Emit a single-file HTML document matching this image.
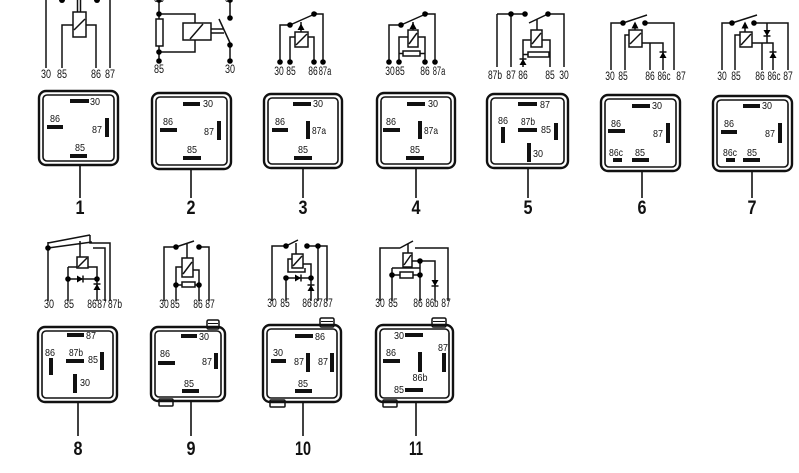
<!DOCTYPE html>
<html><head><meta charset="utf-8"><style>
html,body{margin:0;padding:0;background:#fff;}
svg{display:block;}
text{font-family:"Liberation Sans",sans-serif;fill:#111;}
.l{font-size:10.5px;}
.sl{font-size:11.5px;}
.n{font-size:19px;font-weight:bold;}
.s{fill:none;stroke:#111;stroke-width:1.5;}
.w{fill:#fff;stroke:#111;stroke-width:1.5;}
.o{fill:none;stroke:#111;stroke-width:2.4;}
.i{fill:none;stroke:#111;stroke-width:1.6;}
.st{stroke:#111;stroke-width:1.6;}
</style></head><body>
<svg width="799" height="473" viewBox="0 0 799 473" xmlns="http://www.w3.org/2000/svg">
<rect width="799" height="473" fill="#fff"/>

<!-- ===== Schematic 1 ===== -->
<path class="s" d="M46 0V68 M110 0V68 M62 68V25H73 M96 68V25H86 M77.5 0V12 M80.5 0V12"/>
<rect class="w" x="73" y="12" width="13" height="25"/><line class="s" x1="74" y1="30" x2="85" y2="19"/>
<circle cx="62" cy="0" r="3"/><circle cx="97" cy="0" r="3"/>
<g class="sl" text-anchor="middle"><text x="46" y="78" textLength="10" lengthAdjust="spacingAndGlyphs">30</text><text x="62" y="78" textLength="10" lengthAdjust="spacingAndGlyphs">85</text><text x="96" y="78" textLength="10" lengthAdjust="spacingAndGlyphs">86</text><text x="110" y="78" textLength="10" lengthAdjust="spacingAndGlyphs">87</text></g>

<!-- ===== Schematic 2 ===== -->
<path class="s" d="M159 0V62 M159 14H195V23 M159 52H195V40 M211 29H224 M211 33H224 M230 0V18 M230 45V62 M219 19L231 45"/>
<rect class="w" x="156" y="19" width="7" height="27"/>
<rect class="w" x="183" y="23" width="28" height="17"/><line class="s" x1="190" y1="39" x2="203" y2="24"/>
<circle cx="159" cy="0" r="2.8"/><circle cx="159" cy="14" r="2.8"/><circle cx="159" cy="52" r="2.8"/><circle cx="159" cy="61" r="2.8"/>
<circle cx="230" cy="0" r="2.8"/><circle cx="230" cy="18" r="2.8"/><circle cx="230" cy="45" r="2.8"/><circle cx="230" cy="61" r="2.8"/>
<g class="sl" text-anchor="middle"><text x="159" y="73" textLength="10" lengthAdjust="spacingAndGlyphs">85</text><text x="230" y="73" textLength="10" lengthAdjust="spacingAndGlyphs">30</text><text x="159" y="2" textLength="10" lengthAdjust="spacingAndGlyphs">86</text><text x="230" y="2" textLength="10" lengthAdjust="spacingAndGlyphs">87</text></g>

<!-- ===== Schematic 3 ===== -->
<path class="s" d="M280 62V25H290 M290 25L317 13 M314 14H323V62 M290 62V37H295 M314 62V37H308 M301 22V32"/>
<rect class="w" x="295" y="32" width="13" height="15"/><line class="s" x1="296" y1="45" x2="307" y2="34"/>
<polygon points="297.5,30 304.5,30 301,23.5"/>
<circle cx="290" cy="25" r="2.8"/><circle cx="314" cy="14" r="2.8"/>
<circle cx="280" cy="62" r="2.8"/><circle cx="290" cy="62" r="2.8"/><circle cx="314" cy="62" r="2.8"/><circle cx="323" cy="62" r="2.8"/>
<g class="sl" text-anchor="middle"><text x="279" y="75" textLength="9.5" lengthAdjust="spacingAndGlyphs">30</text><text x="291" y="75" textLength="9.5" lengthAdjust="spacingAndGlyphs">85</text><text x="313" y="75" textLength="9.5" lengthAdjust="spacingAndGlyphs">86</text><text x="325" y="75" textLength="12.5" lengthAdjust="spacingAndGlyphs">87a</text></g>

<!-- ===== Schematic 4 ===== -->
<path class="s" d="M389 62V25H401 M401 25L428 13 M425 14H435V62 M399 62V37H408 M425 62V37H418 M399 53.5H403 M420 53.5H425 M413 22V30"/>
<rect class="w" x="408" y="30" width="10" height="17"/><line class="s" x1="409" y1="44" x2="417" y2="33"/>
<rect class="w" x="403" y="51" width="17" height="5"/>
<polygon points="409.5,29 416.5,29 413,22.5"/>
<circle cx="401" cy="25" r="2.8"/><circle cx="425" cy="14" r="2.8"/>
<circle cx="389" cy="62" r="2.8"/><circle cx="399" cy="62" r="2.8"/><circle cx="425" cy="62" r="2.8"/><circle cx="435" cy="62" r="2.8"/>
<g class="sl" text-anchor="middle"><text x="390" y="75" textLength="9.5" lengthAdjust="spacingAndGlyphs">30</text><text x="400" y="75" textLength="9.5" lengthAdjust="spacingAndGlyphs">85</text><text x="425" y="75" textLength="9.5" lengthAdjust="spacingAndGlyphs">86</text><text x="439" y="75" textLength="12.5" lengthAdjust="spacingAndGlyphs">87a</text></g>

<!-- ===== Schematic 5 ===== -->
<path class="s" d="M497 14V67 M497 14H525 M511 14V67 M529 23L550 13 M548 14H564V67 M537 19V30 M523 67V40H550V67 M523 54.5H528 M549 54.5H550"/>
<rect class="w" x="531" y="30" width="11" height="17"/><line class="s" x1="532" y1="44" x2="541" y2="33"/>
<rect class="w" x="528" y="52" width="21" height="5"/>
<polygon points="519.5,65 526.5,65 523,59"/><line class="s" x1="519.5" y1="59" x2="526.5" y2="59"/>
<circle cx="511" cy="14" r="2.8"/><circle cx="525" cy="14" r="2.8"/><circle cx="548" cy="14" r="2.8"/>
<g class="sl" text-anchor="middle"><text x="495" y="79" textLength="14" lengthAdjust="spacingAndGlyphs">87b</text><text x="511" y="79" textLength="9.5" lengthAdjust="spacingAndGlyphs">87</text><text x="523" y="79" textLength="9.5" lengthAdjust="spacingAndGlyphs">86</text><text x="550" y="79" textLength="9.5" lengthAdjust="spacingAndGlyphs">85</text><text x="564" y="79" textLength="9.5" lengthAdjust="spacingAndGlyphs">30</text></g>

<!-- ===== Schematic 6 ===== -->
<path class="s" d="M611 70V23H623 M623 23L647 15 M645 23H674V70 M625 70V35H629 M642 43H663V70 M650 43V70 M635 28V30"/>
<rect class="w" x="629" y="30" width="13" height="17"/><line class="s" x1="630" y1="44" x2="641" y2="33"/>
<polygon points="631.5,28.5 638.5,28.5 635,21.5"/>
<polygon points="659.5,58 666.5,58 663,52"/><line class="s" x1="659.5" y1="52" x2="666.5" y2="52"/>
<circle cx="623" cy="23" r="2.8"/><circle cx="645" cy="23" r="2.8"/>
<g class="sl" text-anchor="middle"><text x="610" y="80" textLength="9.5" lengthAdjust="spacingAndGlyphs">30</text><text x="623" y="80" textLength="9.5" lengthAdjust="spacingAndGlyphs">85</text><text x="650" y="80" textLength="9.5" lengthAdjust="spacingAndGlyphs">86</text><text x="664" y="80" textLength="13" lengthAdjust="spacingAndGlyphs">86c</text><text x="681" y="80" textLength="9.5" lengthAdjust="spacingAndGlyphs">87</text></g>

<!-- ===== Schematic 7 ===== -->
<path class="s" d="M722 70V23H732 M732 23L757 15 M754 23H788V70 M735 70V35H740 M752 43H773V70 M762 43V70 M767 23V43 M745 28V32"/>
<rect class="w" x="740" y="32" width="12" height="15"/><line class="s" x1="741" y1="45" x2="751" y2="34"/>
<polygon points="741.5,28.5 748.5,28.5 745,21.5"/>
<polygon points="763.5,30 770.5,30 767,36"/><line class="s" x1="763.5" y1="36" x2="770.5" y2="36"/>
<polygon points="769.5,58 776.5,58 773,52"/><line class="s" x1="769.5" y1="52" x2="776.5" y2="52"/>
<circle cx="732" cy="23" r="2.8"/><circle cx="754" cy="23" r="2.8"/>
<g class="sl" text-anchor="middle"><text x="722" y="80" textLength="9.5" lengthAdjust="spacingAndGlyphs">30</text><text x="736" y="80" textLength="9.5" lengthAdjust="spacingAndGlyphs">85</text><text x="760" y="80" textLength="9.5" lengthAdjust="spacingAndGlyphs">86</text><text x="774" y="80" textLength="13" lengthAdjust="spacingAndGlyphs">86c</text><text x="788" y="80" textLength="9.5" lengthAdjust="spacingAndGlyphs">87</text></g>

<!-- ===== Schematic 8 ===== -->
<path class="s" d="M48 242V301 M48 243L90 235 M48 248L92 242 M80 241V257 M90 235V243H110V301 M93 248H105V301 M68 267H77 M88 267H97V301 M68 267V301 M68 279H97"/>
<rect class="w" x="77" y="257" width="11" height="11"/><line class="s" x1="78" y1="267" x2="87" y2="258"/>
<polygon points="77,275.5 77,282.5 83,279"/><line class="s" x1="83" y1="275.5" x2="83" y2="282.5"/>
<polygon points="93.5,290 100.5,290 97,284"/><line class="s" x1="93.5" y1="284" x2="100.5" y2="284"/>
<circle cx="48" cy="248" r="2.8"/><circle cx="68" cy="279" r="2.8"/><circle cx="97" cy="279" r="2.8"/>
<g class="sl" text-anchor="middle"><text x="49" y="308" textLength="10" lengthAdjust="spacingAndGlyphs">30</text><text x="69" y="308" textLength="10" lengthAdjust="spacingAndGlyphs">85</text><text x="92" y="308" textLength="9.5" lengthAdjust="spacingAndGlyphs">86</text><text x="102" y="308" textLength="9.5" lengthAdjust="spacingAndGlyphs">87</text><text x="115" y="308" textLength="14" lengthAdjust="spacingAndGlyphs">87b</text></g>

<!-- ===== Schematic 9 ===== -->
<path class="s" d="M164 301V247H176 M176 247L194 241 M199 247H209V301 M187 243V258 M176 301V267H182 M193 270H199V301 M176 285H182 M195 285H199"/>
<rect class="w" x="182" y="258" width="11" height="19"/><line class="s" x1="183" y1="274" x2="192" y2="262"/>
<rect class="w" x="182" y="282" width="13" height="5"/>
<circle cx="176" cy="247" r="2.8"/><circle cx="199" cy="247" r="2.8"/><circle cx="176" cy="285" r="2.8"/><circle cx="199" cy="285" r="2.8"/>
<g class="sl" text-anchor="middle"><text x="164" y="308" textLength="9.5" lengthAdjust="spacingAndGlyphs">30</text><text x="175" y="308" textLength="9.5" lengthAdjust="spacingAndGlyphs">85</text><text x="198" y="308" textLength="9.5" lengthAdjust="spacingAndGlyphs">86</text><text x="210" y="308" textLength="9.5" lengthAdjust="spacingAndGlyphs">87</text></g>

<!-- ===== Schematic 10 ===== -->
<path class="s" d="M272 301V246H286 M286 246L298 240 M307 246H327V301 M318 246V301 M296 243V255 M292 259H288V272H305V268 M302 264H311V301 M286 278V301 M286 278H311"/>
<rect class="w" x="292" y="254" width="11" height="14"/><line class="s" x1="293" y1="266" x2="302" y2="256"/>
<polygon points="295,274.5 295,281.5 301,278"/><line class="s" x1="301" y1="274.5" x2="301" y2="281.5"/>
<polygon points="307.5,291 314.5,291 311,285"/><line class="s" x1="307.5" y1="285" x2="314.5" y2="285"/>
<circle cx="286" cy="246" r="2.8"/><circle cx="307" cy="246" r="2.8"/><circle cx="318" cy="246" r="2.8"/><circle cx="286" cy="278" r="2.8"/><circle cx="311" cy="278" r="2.8"/>
<g class="sl" text-anchor="middle"><text x="272" y="307" textLength="9.5" lengthAdjust="spacingAndGlyphs">30</text><text x="285" y="307" textLength="9.5" lengthAdjust="spacingAndGlyphs">85</text><text x="307" y="307" textLength="9.5" lengthAdjust="spacingAndGlyphs">86</text><text x="318" y="307" textLength="9.5" lengthAdjust="spacingAndGlyphs">87</text><text x="328" y="307" textLength="9.5" lengthAdjust="spacingAndGlyphs">87</text></g>

<!-- ===== Schematic 11 ===== -->
<path class="s" d="M380 301V248H400 M400 248L413 241 M415 248H448V301 M408 244V253 M408 267V268 M392 268H420 M392 268V301 M420 261V301 M412 261H435V301 M392 275H400 M413 275H420"/>
<rect class="w" x="403" y="253" width="9" height="14"/><line class="s" x1="404" y1="265" x2="411" y2="255"/>
<rect class="w" x="400" y="272" width="13" height="6"/>
<polygon points="431.5,280 438.5,280 435,286"/><line class="s" x1="431.5" y1="286" x2="438.5" y2="286"/>
<circle cx="392" cy="275" r="2.8"/><circle cx="420" cy="275" r="2.8"/><circle cx="420" cy="261" r="2.8"/>
<g class="sl" text-anchor="middle"><text x="380" y="307" textLength="9.5" lengthAdjust="spacingAndGlyphs">30</text><text x="393" y="307" textLength="9.5" lengthAdjust="spacingAndGlyphs">85</text><text x="418" y="307" textLength="9.5" lengthAdjust="spacingAndGlyphs">86</text><text x="432" y="307" textLength="13" lengthAdjust="spacingAndGlyphs">86b</text><text x="446" y="307" textLength="9.5" lengthAdjust="spacingAndGlyphs">87</text></g>

<!-- ===== Tabs (behind boxes) ===== -->
<g fill="#fff" stroke="#111" stroke-width="1.5">
<rect x="207" y="320" width="12" height="9" rx="1.5"/><rect x="159" y="399" width="14" height="7" rx="1"/>
<rect x="320" y="318" width="14" height="9" rx="1.5"/><rect x="270" y="400" width="15" height="7" rx="1"/>
<rect x="432" y="318" width="14" height="9" rx="1.5"/><rect x="383" y="400" width="14" height="7" rx="1"/>
</g>
<g stroke="#111" stroke-width="1"><line x1="208" y1="323.5" x2="218" y2="323.5"/><line x1="321" y1="321.5" x2="333" y2="321.5"/><line x1="433" y1="321.5" x2="445" y2="321.5"/></g>

<!-- ===== Boxes ===== -->
<g fill="#fff">
<rect class="o" x="39" y="91" width="79" height="74" rx="7"/><rect class="i" x="43" y="95" width="71" height="66" rx="4"/>
<rect class="o" x="152" y="93" width="79" height="76" rx="7"/><rect class="i" x="156" y="97" width="71" height="68" rx="4"/>
<rect class="o" x="264" y="94" width="78" height="74" rx="7"/><rect class="i" x="268" y="98" width="70" height="66" rx="4"/>
<rect class="o" x="377" y="93" width="78" height="75" rx="7"/><rect class="i" x="381" y="97" width="70" height="67" rx="4"/>
<rect class="o" x="487" y="94" width="81" height="74" rx="7"/><rect class="i" x="491" y="98" width="73" height="66" rx="4"/>
<rect class="o" x="601" y="95" width="79" height="76" rx="7"/><rect class="i" x="605" y="99" width="71" height="68" rx="4"/>
<rect class="o" x="713" y="96" width="79" height="75" rx="7"/><rect class="i" x="717" y="100" width="71" height="67" rx="4"/>
<rect class="o" x="38" y="327" width="79" height="75" rx="7"/><rect class="i" x="42" y="331" width="71" height="67" rx="4"/>
<rect class="o" x="151" y="327" width="74" height="74" rx="7"/><rect class="i" x="155" y="331" width="66" height="66" rx="4"/>
<rect class="o" x="263" y="325" width="78" height="77" rx="7"/><rect class="i" x="267" y="329" width="70" height="69" rx="4"/>
<rect class="o" x="376" y="325" width="77" height="77" rx="7"/><rect class="i" x="380" y="329" width="69" height="69" rx="4"/>
</g>

<!-- ===== Stems ===== -->
<g class="st">
<line x1="80" y1="165" x2="80" y2="198"/><line x1="191" y1="169" x2="191" y2="198"/><line x1="303" y1="168" x2="303" y2="198"/><line x1="416" y1="168" x2="416" y2="198"/><line x1="528" y1="168" x2="528" y2="198"/><line x1="642" y1="171" x2="642" y2="198"/><line x1="752" y1="171" x2="752" y2="198"/>
<line x1="78" y1="402" x2="78" y2="436"/><line x1="191" y1="401" x2="191" y2="436"/><line x1="303" y1="402" x2="303" y2="436"/><line x1="416" y1="402" x2="416" y2="436"/>
</g>

<!-- ===== Numbers ===== -->
<g class="n" text-anchor="middle">
<text x="80" y="214" textLength="9" lengthAdjust="spacingAndGlyphs">1</text><text x="191" y="214" textLength="9" lengthAdjust="spacingAndGlyphs">2</text><text x="303" y="214" textLength="9" lengthAdjust="spacingAndGlyphs">3</text><text x="416" y="214" textLength="9" lengthAdjust="spacingAndGlyphs">4</text><text x="528" y="214" textLength="9" lengthAdjust="spacingAndGlyphs">5</text><text x="642" y="214" textLength="9" lengthAdjust="spacingAndGlyphs">6</text><text x="752" y="214" textLength="9" lengthAdjust="spacingAndGlyphs">7</text>
<text x="78" y="455" textLength="9" lengthAdjust="spacingAndGlyphs">8</text><text x="191" y="455" textLength="9" lengthAdjust="spacingAndGlyphs">9</text><text x="303" y="455" textLength="16" lengthAdjust="spacingAndGlyphs">10</text><text x="416" y="455" textLength="14" lengthAdjust="spacingAndGlyphs">11</text>
</g>

<!-- ===== Box pins ===== -->
<g fill="#111">
<rect x="70" y="99" width="19" height="4"/><rect x="47" y="125" width="16" height="4"/><rect x="105" y="118" width="4" height="19"/><rect x="70" y="154" width="17" height="4"/>
<rect x="183" y="102" width="17" height="4"/><rect x="160" y="128" width="17" height="4"/><rect x="217" y="121" width="4" height="19"/><rect x="183" y="156" width="18" height="4"/>
<rect x="293" y="102" width="18" height="4"/><rect x="272" y="128" width="16" height="4"/><rect x="306" y="121" width="4" height="18"/><rect x="294" y="156" width="18" height="4"/>
<rect x="407" y="102" width="18" height="4"/><rect x="383" y="128" width="17" height="4"/><rect x="418" y="121" width="4" height="18"/><rect x="406" y="156" width="18" height="4"/>
<rect x="518" y="102" width="19" height="4"/><rect x="501" y="127" width="4" height="16"/><rect x="518" y="128" width="19" height="4"/><rect x="554" y="123" width="4" height="17"/><rect x="527" y="143" width="4" height="19"/>
<rect x="632" y="104" width="18" height="4"/><rect x="608" y="129" width="17" height="4"/><rect x="666" y="123" width="4" height="20"/><rect x="613" y="158" width="9" height="4"/><rect x="632" y="158" width="17" height="4"/>
<rect x="743" y="104" width="17" height="4"/><rect x="721" y="130" width="16" height="4"/><rect x="778" y="123" width="4" height="20"/><rect x="726" y="158" width="9" height="4"/><rect x="743" y="158" width="17" height="4"/>
<rect x="67" y="333" width="17" height="4"/><rect x="49" y="358" width="4" height="17"/><rect x="66" y="359" width="18" height="4"/><rect x="100" y="352" width="4" height="18"/><rect x="73" y="374" width="4" height="19"/>
<rect x="181" y="334" width="16" height="4"/><rect x="158" y="361" width="17" height="4"/><rect x="214" y="353" width="4" height="16"/><rect x="182" y="389" width="17" height="4"/>
<rect x="295" y="334" width="18" height="4"/><rect x="271" y="359" width="15" height="4"/><rect x="306" y="353" width="4" height="19"/><rect x="330" y="353" width="4" height="19"/><rect x="295" y="389" width="17" height="4"/>
<rect x="405" y="333" width="18" height="4"/><rect x="383" y="359" width="17" height="4"/><rect x="418" y="352" width="4" height="20"/><rect x="442" y="353" width="4" height="19"/><rect x="405" y="388" width="18" height="4"/>
</g>

<!-- ===== Box labels ===== -->
<g class="l">
<text x="90" y="105" textLength="10" lengthAdjust="spacingAndGlyphs">30</text>
<text x="55" y="122" text-anchor="middle" textLength="10" lengthAdjust="spacingAndGlyphs">86</text>
<text x="97" y="133" text-anchor="middle" textLength="10" lengthAdjust="spacingAndGlyphs">87</text>
<text x="80" y="151" text-anchor="middle" textLength="10" lengthAdjust="spacingAndGlyphs">85</text>
<text x="203" y="107" textLength="10" lengthAdjust="spacingAndGlyphs">30</text>
<text x="168" y="125" text-anchor="middle" textLength="10" lengthAdjust="spacingAndGlyphs">86</text>
<text x="209" y="135" text-anchor="middle" textLength="10" lengthAdjust="spacingAndGlyphs">87</text>
<text x="192" y="153" text-anchor="middle" textLength="10" lengthAdjust="spacingAndGlyphs">85</text>
<text x="313" y="107" textLength="10" lengthAdjust="spacingAndGlyphs">30</text>
<text x="280" y="125" text-anchor="middle" textLength="10" lengthAdjust="spacingAndGlyphs">86</text>
<text x="312" y="134" textLength="14" lengthAdjust="spacingAndGlyphs">87a</text>
<text x="303" y="153" text-anchor="middle" textLength="10" lengthAdjust="spacingAndGlyphs">85</text>
<text x="428" y="107" textLength="10" lengthAdjust="spacingAndGlyphs">30</text>
<text x="391" y="125" text-anchor="middle" textLength="10" lengthAdjust="spacingAndGlyphs">86</text>
<text x="424" y="134" textLength="14" lengthAdjust="spacingAndGlyphs">87a</text>
<text x="415" y="153" text-anchor="middle" textLength="10" lengthAdjust="spacingAndGlyphs">85</text>
<text x="540" y="108" textLength="10" lengthAdjust="spacingAndGlyphs">87</text>
<text x="503" y="124" text-anchor="middle" textLength="10" lengthAdjust="spacingAndGlyphs">86</text>
<text x="528" y="125" text-anchor="middle" textLength="14" lengthAdjust="spacingAndGlyphs">87b</text>
<text x="546" y="133" text-anchor="middle" textLength="10" lengthAdjust="spacingAndGlyphs">85</text>
<text x="533" y="157" textLength="10" lengthAdjust="spacingAndGlyphs">30</text>
<text x="652" y="109" textLength="10" lengthAdjust="spacingAndGlyphs">30</text>
<text x="616" y="127" text-anchor="middle" textLength="10" lengthAdjust="spacingAndGlyphs">86</text>
<text x="658" y="137" text-anchor="middle" textLength="10" lengthAdjust="spacingAndGlyphs">87</text>
<text x="616" y="156" text-anchor="middle" textLength="14" lengthAdjust="spacingAndGlyphs">86c</text>
<text x="640" y="156" text-anchor="middle" textLength="10" lengthAdjust="spacingAndGlyphs">85</text>
<text x="762" y="109" textLength="10" lengthAdjust="spacingAndGlyphs">30</text>
<text x="729" y="127" text-anchor="middle" textLength="10" lengthAdjust="spacingAndGlyphs">86</text>
<text x="770" y="137" text-anchor="middle" textLength="10" lengthAdjust="spacingAndGlyphs">87</text>
<text x="730" y="156" text-anchor="middle" textLength="14" lengthAdjust="spacingAndGlyphs">86c</text>
<text x="752" y="156" text-anchor="middle" textLength="10" lengthAdjust="spacingAndGlyphs">85</text>
<text x="86" y="339" textLength="10" lengthAdjust="spacingAndGlyphs">87</text>
<text x="50" y="356" text-anchor="middle" textLength="10" lengthAdjust="spacingAndGlyphs">86</text>
<text x="76" y="356" text-anchor="middle" textLength="14" lengthAdjust="spacingAndGlyphs">87b</text>
<text x="93" y="363" text-anchor="middle" textLength="10" lengthAdjust="spacingAndGlyphs">85</text>
<text x="80" y="386" textLength="10" lengthAdjust="spacingAndGlyphs">30</text>
<text x="199" y="340" textLength="10" lengthAdjust="spacingAndGlyphs">30</text>
<text x="165" y="357" text-anchor="middle" textLength="10" lengthAdjust="spacingAndGlyphs">86</text>
<text x="207" y="365" text-anchor="middle" textLength="10" lengthAdjust="spacingAndGlyphs">87</text>
<text x="189" y="387" text-anchor="middle" textLength="10" lengthAdjust="spacingAndGlyphs">85</text>
<text x="315" y="340" textLength="10" lengthAdjust="spacingAndGlyphs">86</text>
<text x="278" y="356" text-anchor="middle" textLength="10" lengthAdjust="spacingAndGlyphs">30</text>
<text x="299" y="365" text-anchor="middle" textLength="10" lengthAdjust="spacingAndGlyphs">87</text>
<text x="323" y="365" text-anchor="middle" textLength="10" lengthAdjust="spacingAndGlyphs">87</text>
<text x="303" y="387" text-anchor="middle" textLength="10" lengthAdjust="spacingAndGlyphs">85</text>
<text x="404" y="339" text-anchor="end" textLength="10" lengthAdjust="spacingAndGlyphs">30</text>
<text x="391" y="356" text-anchor="middle" textLength="10" lengthAdjust="spacingAndGlyphs">86</text>
<text x="420" y="381" text-anchor="middle" textLength="15" lengthAdjust="spacingAndGlyphs">86b</text>
<text x="443" y="351" text-anchor="middle" textLength="10" lengthAdjust="spacingAndGlyphs">87</text>
<text x="404" y="393" text-anchor="end" textLength="10" lengthAdjust="spacingAndGlyphs">85</text>
</g>
</svg>
</body></html>
